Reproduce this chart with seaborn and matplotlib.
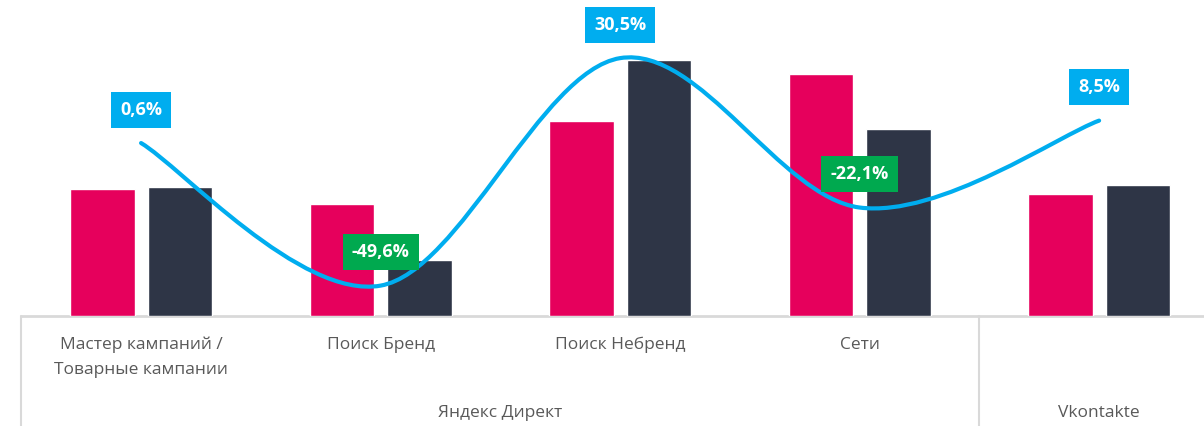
import matplotlib
matplotlib.use("Agg")
import matplotlib.pyplot as plt
import matplotlib.transforms as mtransforms
from matplotlib.path import Path
from matplotlib.patches import PathPatch
import seaborn as sns
import pandas as pd

# data (bar heights in arbitrary units)
categories = ["Мастер кампаний /\nТоварные кампании", "Поиск Бренд", "Поиск Небренд", "Сети", "Vkontakte"]
tick_labels = ["Мастер кампаний /\nТоварные кампании", "Поиск Бренд", "Поиск Небренд", "Сети", ""]
series_names = ["Период 1", "Период 2"]
values_1 = [127, 112, 195, 242, 122]
values_2 = [129, 56, 256, 187, 131]
change_pct = [0.6, -49.6, 30.5, -22.1, 8.5]
groups = ["Яндекс Директ", "Vkontakte"]

PINK = "#E6005C"
DARK = "#2E3546"
BLUE = "#00ADEF"
GREEN = "#00A94F"
GREY_TXT = "#595959"
GREY_LINE = "#D9D9D9"

sns.set_theme(style="white")
plt.rcParams["font.family"] = ["Open Sans", "DejaVu Sans"]

df = pd.DataFrame({
    "cat": categories * 2,
    "series": [series_names[0]] * 5 + [series_names[1]] * 5,
    "val": values_1 + values_2,
})

fig = plt.figure(figsize=(12.04, 4.26), dpi=100)
ax = fig.add_axes([0, 0.2582, 1, 0.7418])

sns.barplot(data=df, x="cat", y="val", hue="series", palette=[PINK, DARK],
            width=0.647, gap=0.168, legend=False, ax=ax, saturation=1)

ax.set_xlim(-0.589, 4.438)
ax.set_ylim(0, 316)
ax.set_yticks([])
ax.set_xticks(range(len(tick_labels)))
ax.set_xticklabels(tick_labels)
ax.set_xlabel("")
ax.set_ylabel("")
for s in ax.spines.values():
    s.set_visible(False)
ax.tick_params(axis="x", length=0, pad=15, labelsize=12.5, labelcolor=GREY_TXT)
for lab in ax.get_xticklabels():
    lab.set_linespacing(1.75)

# axis lines below the bars
trans = mtransforms.blended_transform_factory(ax.transData, ax.transAxes)
ax.plot([-0.5, 4.438], [0, 0], transform=trans, color=GREY_LINE, lw=2, clip_on=False, zorder=0)
for xb in [-0.5, 3.5]:
    ax.plot([xb, xb], [0, -0.4], transform=trans, color=GREY_LINE, lw=1.5, clip_on=False)

ax.text(1.5, -0.307, groups[0], transform=trans, ha="center", va="center",
        fontsize=12.5, color=GREY_TXT)
ax.text(4, -0.307, groups[1], transform=trans, ha="center", va="center",
        fontsize=12.5, color=GREY_TXT)

# secondary axis for the change line
ax2 = ax.twinx()
ax2.set_ylim(-60.3, 50.97)
ax2.set_yticks([])
for s in ax2.spines.values():
    s.set_visible(False)

xs = list(range(len(change_pct)))
pts = list(zip(xs, change_pct))
ext = [pts[0]] + pts + [pts[-1]]
verts = [pts[0]]
codes = [Path.MOVETO]
for i in range(1, len(ext) - 2):
    p0, p1, p2, p3 = ext[i - 1], ext[i], ext[i + 1], ext[i + 2]
    c1 = (p1[0] + (p2[0] - p0[0]) / 6, p1[1] + (p2[1] - p0[1]) / 6)
    c2 = (p2[0] - (p3[0] - p1[0]) / 6, p2[1] - (p3[1] - p1[1]) / 6)
    verts += [c1, c2, p2]
    codes += [Path.CURVE4] * 3
ax2.add_patch(PathPatch(Path(verts, codes), fill=False, ec=BLUE, lw=3,
                        capstyle="round", zorder=3))

for x, v in zip(xs, change_pct):
    txt = f"{v:.1f}%".replace(".", ",")
    ax2.annotate(txt, xy=(x, v), xytext=(0, 24), textcoords="offset points",
                 ha="center", va="center", color="white", fontsize=13,
                 fontweight="bold", zorder=5,
                 bbox=dict(boxstyle="square,pad=0.5", fc=BLUE if v >= 0 else GREEN, ec="none"))

fig.savefig("out.png", dpi=100)
